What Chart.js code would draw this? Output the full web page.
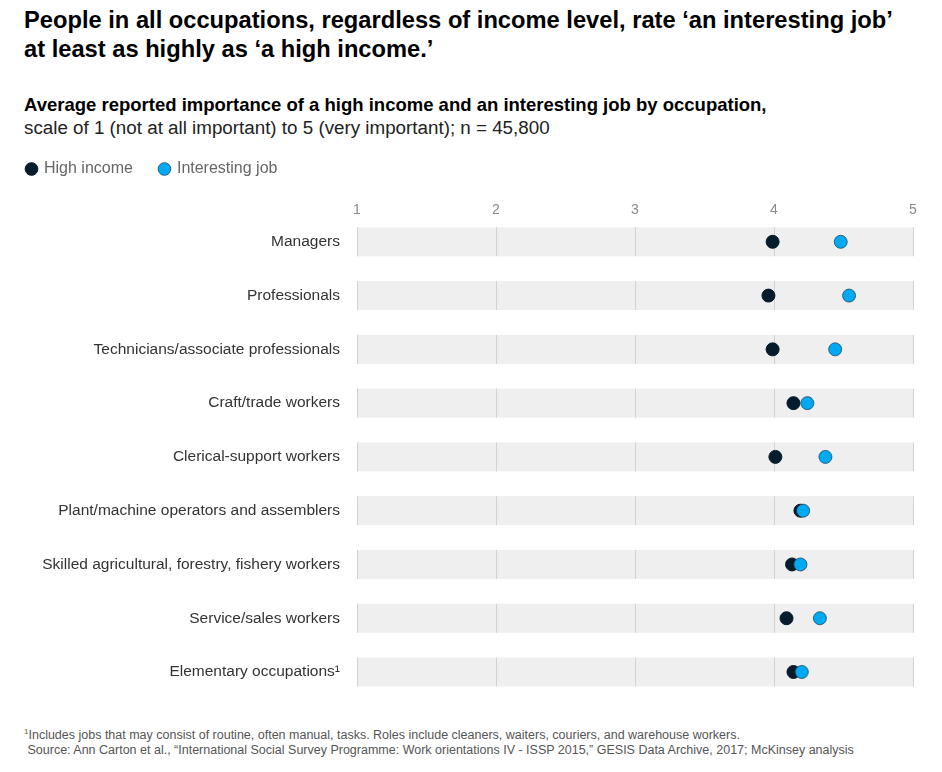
<!DOCTYPE html>
<html><head><meta charset="utf-8">
<script src="https://cdn.jsdelivr.net/npm/chart.js@4.4.1/dist/chart.umd.min.js"></script>
<style>
html,body{margin:0;padding:0;background:#fff;width:942px;height:772px;overflow:hidden;}
body{position:relative;font-family:"Liberation Sans",Arial,sans-serif;}
#title{position:absolute;left:24px;top:6px;font-weight:bold;font-size:23.7px;line-height:29px;color:#000;white-space:nowrap;}
#sub{position:absolute;left:24px;top:93px;font-size:18.8px;line-height:23px;color:#222;white-space:nowrap;}
#sub b{color:#000;font-size:18.5px;}
#foot{position:absolute;left:24px;top:724px;font-size:12.5px;line-height:15px;color:#555;white-space:nowrap;}
#wrap{position:absolute;left:0;top:134px;width:942px;height:561px;}
</style></head>
<body>
<div id="title">People in all occupations, regardless of income level, rate ‘an interesting job’<br>at least as highly as ‘a high income.’</div>
<div id="sub"><b>Average reported importance of a high income and an interesting job by occupation,</b><br>scale of 1 (not at all important) to 5 (very important); n = 45,800</div>
<div id="wrap"><canvas id="c"></canvas></div>
<div id="foot"><sup style="font-size:8px">1</sup>Includes jobs that may consist of routine, often manual, tasks. Roles include cleaners, waiters, couriers, and warehouse workers.<br>&nbsp;Source: Ann Carton et al., “International Social Survey Programme: Work orientations IV - ISSP 2015,” GESIS Data Archive, 2017; McKinsey analysis</div>
<script>
const occupations = [
  "Managers",
  "Professionals",
  "Technicians/associate professionals",
  "Craft/trade workers",
  "Clerical-support workers",
  "Plant/machine operators and assemblers",
  "Skilled agricultural, forestry, fishery workers",
  "Service/sales workers",
  "Elementary occupations¹"
];
const highIncome     = [3.99, 3.96, 3.99, 4.14, 4.01, 4.19, 4.13, 4.09, 4.14];
const interestingJob = [4.48, 4.54, 4.44, 4.24, 4.37, 4.21, 4.19, 4.33, 4.20];
const xTicks = [1, 2, 3, 4, 5];

const FONT = '"Liberation Sans", Arial, sans-serif';

const bandPlugin = {
  id: 'bands',
  beforeDatasetsDraw(chart) {
    const {ctx, chartArea, scales} = chart;
    const y = scales.y, x = scales.x;
    ctx.save();
    occupations.forEach((c, i) => {
      const cy = y.getPixelForValue(i);
      const h = 29;
      ctx.fillStyle = '#efefef';
      ctx.fillRect(chartArea.left, cy - h/2, chartArea.right - chartArea.left, h);
      ctx.strokeStyle = '#d2d2d2';
      ctx.lineWidth = 1;
      xTicks.forEach(t => {
        const px = Math.round(x.getPixelForValue(t)) + 0.5;
        ctx.beginPath();
        ctx.moveTo(px, cy - h/2);
        ctx.lineTo(px, cy + h/2);
        ctx.stroke();
      });
    });
    ctx.restore();
  }
};

new Chart(document.getElementById('c'), {
  type: 'scatter',
  data: {
    datasets: [
      {
        label: 'High income',
        data: occupations.map((c, i) => ({x: highIncome[i], y: c})),
        backgroundColor: '#051c2c', borderColor: '#051c2c', borderWidth: 1,
        pointRadius: 6.5, pointHoverRadius: 6.5, order: 1, clip: false
      },
      {
        label: 'Interesting job',
        data: occupations.map((c, i) => ({x: interestingJob[i], y: c})),
        backgroundColor: '#00a9f4', borderColor: '#1f4a60', borderWidth: 0.8,
        pointRadius: 6.5, pointHoverRadius: 6.5, order: 0, clip: false
      }
    ]
  },
  options: {
    responsive: true, maintainAspectRatio: false, animation: false,
    layout: {padding: {left: 0, right: 29, top: 0, bottom: 23}},
    plugins: {
      tooltip: {enabled: false},
      legend: {
        position: 'top', align: 'start',
        labels: {
          usePointStyle: true, pointStyle: 'circle', boxWidth: 9, boxHeight: 9,
          padding: 27, color: '#666',
          font: {family: FONT, size: 16},
          sort: (a, b) => a.datasetIndex - b.datasetIndex
        }
      }
    },
    scales: {
      x: {
        type: 'linear', position: 'top', min: 1, max: 5,
        afterBuildTicks: s => { s.ticks = xTicks.map(v => ({value: v})); },
        grid: {display: false}, border: {display: false},
        ticks: {color: '#8a8a8a', padding: 15, font: {family: FONT, size: 14}}
      },
      y: {
        type: 'category', labels: occupations, offset: false,
        afterFit: s => { s.width = 357; },
        grid: {display: false}, border: {display: false},
        ticks: {color: '#333', padding: 9, font: {family: FONT, size: 15.5}}
      }
    }
  },
  plugins: [bandPlugin]
});
</script>
</body></html>
